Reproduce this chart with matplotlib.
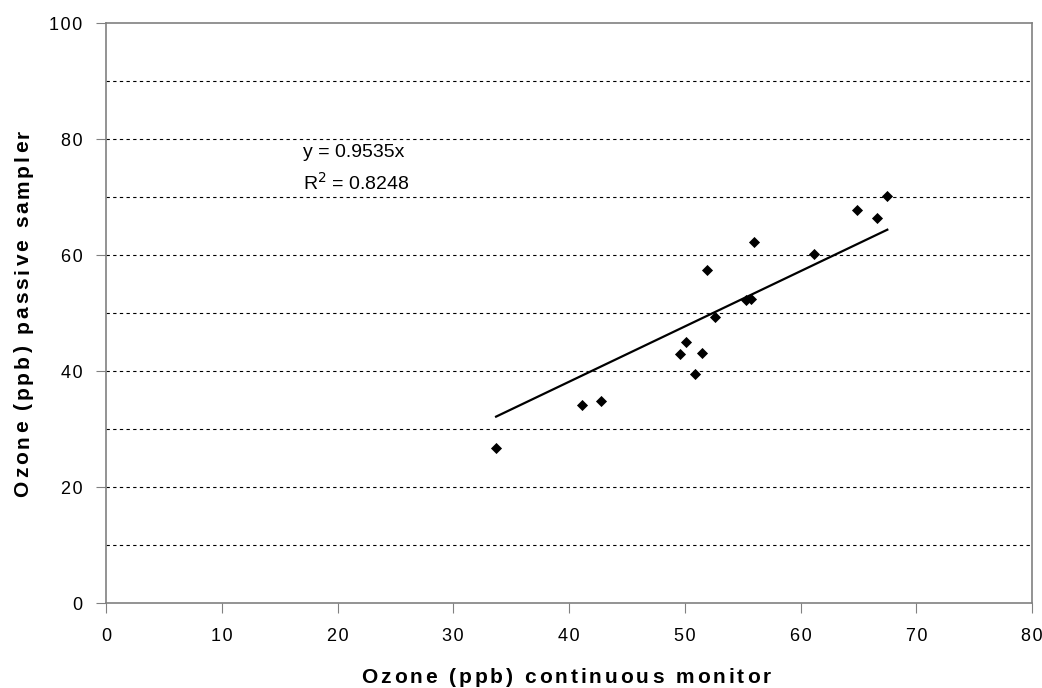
import matplotlib
matplotlib.use("Agg")
import matplotlib.pyplot as plt
from matplotlib.font_manager import FontProperties, findfont, get_font
import numpy as np

plt.rcParams['font.family'] = ['Liberation Sans', 'DejaVu Sans']

continuous = [33.7, 41.1, 42.8, 49.6, 50.1, 51.5, 50.9, 51.9, 52.6, 55.3, 55.7, 56.0, 61.2, 64.9, 66.6, 67.5]
passive = [26.8, 34.1, 34.9, 42.9, 45.0, 43.1, 39.5, 57.4, 49.3, 52.3, 52.4, 62.2, 60.2, 67.8, 66.3, 70.1]
slope = 0.9535
r2 = 0.8248
x_ticks = [0, 10, 20, 30, 40, 50, 60, 70, 80]
y_ticks = [0, 20, 40, 60, 80, 100]
grid_levels = [10, 20, 30, 40, 50, 60, 70, 80, 90]
x_label = 'Ozone (ppb) continuous monitor'
y_label = 'Ozone (ppb) passive sampler'

W, H = 1042, 688
HS = '\u200a'


def advances(s, size, weight):
    prop = FontProperties(family='Liberation Sans', size=size, weight=weight)
    font = get_font(findfont(prop), hinting_factor=1)
    font.set_size(size, 100)
    out = []
    for ch in s:
        g = font.load_char(ord(ch))
        out.append(g.linearHoriAdvance / 65536.0)
    return out


def spaced_text(fig, s, cx, cy, size, weight, gap, vertical=False, cap=0.716):
    """Draw letter-spaced text centred at pixel (cx, cy) (y from top)."""
    adv = advances(s, size, weight)
    total = sum(adv) + gap * (len(s) - 1)
    cap_px = cap * size * 100 / 72
    pos = -total / 2
    for ch, a in zip(s, adv):
        if vertical:
            bx = cx + cap_px / 2
            by = cy - pos
            fig.text(bx / W, 1 - by / H, ch, fontsize=size, fontweight=weight,
                     rotation=90, rotation_mode='anchor', ha='left', va='baseline')
        else:
            bx = cx + pos
            by = cy + cap_px / 2
            fig.text(bx / W, 1 - by / H, ch, fontsize=size, fontweight=weight,
                     ha='left', va='baseline')
        pos += a + gap


fig = plt.figure(figsize=(W / 100, H / 100), dpi=100)
ax = fig.add_axes([106 / W, 1 - 603 / H, (1032 - 106) / W, (603 - 23) / H])

for g in grid_levels:
    ax.axhline(g, color='black', linestyle=(0, (3, 3)), linewidth=0.8, zorder=1)

ax.scatter(continuous, passive, marker='D', s=32, color='black', zorder=3, linewidths=0)
xs = np.array([min(continuous), max(continuous)])
ax.plot(xs, slope * xs, color='black', linewidth=1.6, zorder=2)

ax.text(17.0, 77.6, f'y = {slope:.4f}x', fontsize=14, va='center', ha='left')
ax.text(17.0, 72.4, f'R$^{{2}}$ = {r2:.4f}', fontsize=14, va='center', ha='left')

ax.set_xlim(0, 80)
ax.set_ylim(0, 100)
ax.set_xticks(x_ticks)
ax.set_yticks(y_ticks)
ax.set_xticklabels([HS.join(str(v)) for v in x_ticks])
ax.set_yticklabels([HS.join(str(v)) for v in y_ticks])
ax.tick_params(axis='both', labelsize=13, length=7, color='#808080', direction='out')
ax.tick_params(axis='x', pad=11)
ax.tick_params(axis='y', pad=10)
for sp in ax.spines.values():
    sp.set_color('#808080')
    sp.set_linewidth(1.2)

spaced_text(fig, x_label, 566, 675.5, 15, 'bold', 2.9)
spaced_text(fig, y_label, 21, 313, 15, 'bold', 2.9, vertical=True)

fig.savefig('out.png', dpi=100)
